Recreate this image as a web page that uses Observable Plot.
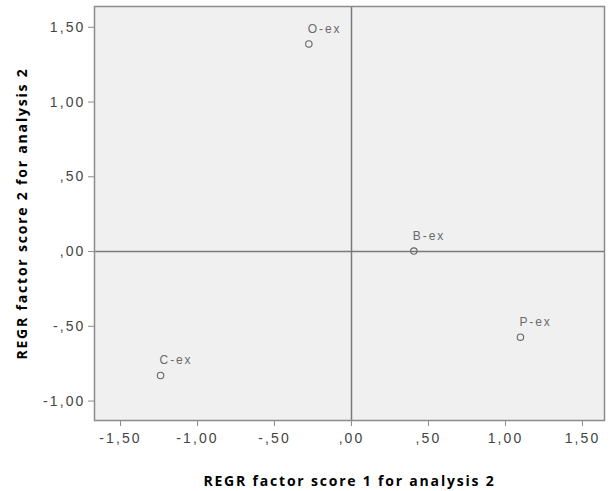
<!DOCTYPE html>
<html>
<head>
<meta charset="utf-8">
<script src="https://cdn.jsdelivr.net/npm/d3@7"></script>
<script src="https://cdn.jsdelivr.net/npm/@observablehq/plot@0.6"></script>
<style>
  html, body { margin: 0; padding: 0; background: #ffffff; }
  #chart svg [aria-label="x-axis tick label"] text,
  #chart svg [aria-label="y-axis tick label"] text { letter-spacing: 2.1px; }
</style>
</head>
<body>
<div id="chart"></div>
<script>
// Data
const pointLabels = ["O-ex", "B-ex", "P-ex", "C-ex"];
const score1 = [-0.277, 0.405, 1.097, -1.240];
const score2 = [1.389, 0.003, -0.573, -0.829];
const xTicks = [-1.5, -1.0, -0.5, 0, 0.5, 1.0, 1.5];
const yTicks = [-1.0, -0.5, 0, 0.5, 1.0, 1.5];
const xTitle = "REGR factor score 1 for analysis 2";
const yTitle = "REGR factor score 2 for analysis 2";

const points = pointLabels.map((label, i) => ({label, s1: score1[i], s2: score2[i]}));

// SPSS-style number format: 1,50  ,50  ,00  -,50  -1,00
function spss(v) {
  let s = Math.abs(v).toFixed(2).replace(".", ",");
  if (s.startsWith("0,")) s = s.slice(1);
  return (v < 0 ? "-" : "") + s;
}

const chart = Plot.plot({
  width: 614,
  height: 491,
  marginLeft: 94,
  marginRight: 10,
  marginTop: 6,
  marginBottom: 71,
  style: {fontFamily: "Liberation Sans, Arial, sans-serif", background: "#ffffff"},
  x: {domain: [-1.669, 1.643], label: null},
  y: {domain: [-1.130, 1.639], label: null},
  marks: [
    Plot.frame({fill: "#f0f0f0", stroke: "none"}),
    Plot.ruleX([0], {stroke: "#7a7a7a", strokeWidth: 1.5}),
    Plot.ruleY([0], {stroke: "#7a7a7a", strokeWidth: 1.5}),
    Plot.frame({stroke: "#8c8c8c", strokeWidth: 1.5}),
    Plot.axisX(xTicks, {tickFormat: spss, tickSize: 6, tickPadding: 7, stroke: "#8c8c8c", fill: "#444", fontSize: 14, label: null}),
    Plot.axisY(yTicks, {tickFormat: spss, tickSize: 6, tickPadding: 3, stroke: "#8c8c8c", fill: "#444", fontSize: 14, label: null}),
    Plot.dot(points, {x: "s1", y: "s2", r: 3.2, stroke: "#666", strokeWidth: 1.1, fill: "none"}),
    Plot.text(points, {x: "s1", y: "s2", text: "label", textAnchor: "start", dx: -1, dy: -15, fill: "#6a6a6a", fontSize: 12}),
    Plot.text([xTitle], {frameAnchor: "bottom", dy: 61, lineAnchor: "middle", textAnchor: "middle", text: d => d, fontFamily: "Open Sans, sans-serif", fontWeight: "bold", fontSize: 14, fill: "#000"}),
    Plot.text([yTitle], {frameAnchor: "left", dx: -72, rotate: -90, lineAnchor: "middle", textAnchor: "middle", text: d => d, fontFamily: "Open Sans, sans-serif", fontWeight: "bold", fontSize: 14, fill: "#000"})
  ]
});
document.getElementById("chart").appendChild(chart);

// Reference text is horizontally wide: widen via letter spacing
d3.select(chart).selectAll("text").each(function() {
  const t = this.textContent;
  if (t === xTitle || t === yTitle) this.setAttribute("letter-spacing", "1.8px");
  else if (pointLabels.includes(t)) this.setAttribute("letter-spacing", "1.9px");
});
</script>
</body>
</html>
